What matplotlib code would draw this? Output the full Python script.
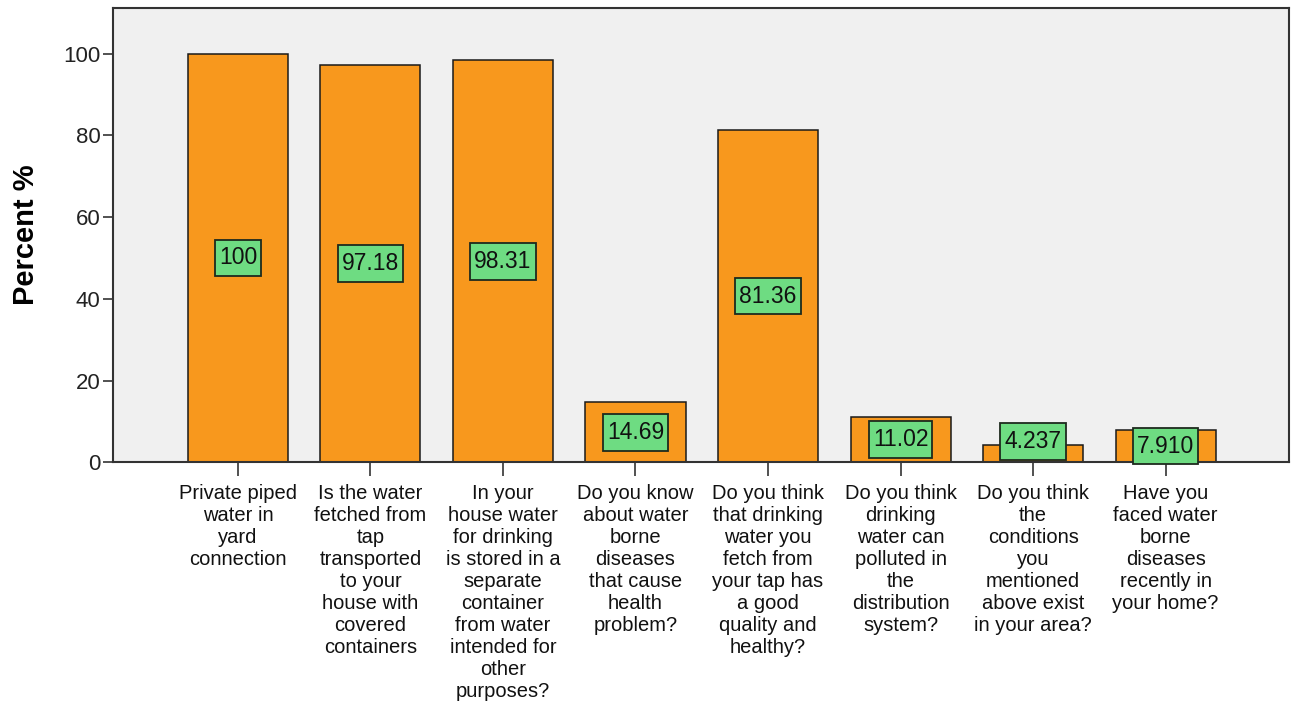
import matplotlib
matplotlib.use("Agg")
import matplotlib.pyplot as plt
from matplotlib.path import Path

plt.rcParams['font.family'] = ['Liberation Sans', 'DejaVu Sans']

categories = [
    "Private piped\nwater in\nyard\nconnection",
    "Is the water\nfetched from\ntap\ntransported\nto your\nhouse with\ncovered\ncontainers",
    "In your\nhouse water\nfor drinking\nis stored in a\nseparate\ncontainer\nfrom water\nintended for\nother\npurposes?",
    "Do you know\nabout water\nborne\ndiseases\nthat cause\nhealth\nproblem?",
    "Do you think\nthat drinking\nwater you\nfetch from\nyour tap has\na good\nquality and\nhealthy?",
    "Do you think\ndrinking\nwater can\npolluted in\nthe\ndistribution\nsystem?",
    "Do you think\nthe\nconditions\nyou\nmentioned\nabove exist\nin your area?",
    "Have you\nfaced water\nborne\ndiseases\nrecently in\nyour home?",
]
values = [100, 97.18, 98.31, 14.69, 81.36, 11.02, 4.237, 7.910]
value_labels = ["100", "97.18", "98.31", "14.69", "81.36", "11.02", "4.237", "7.910"]
yticks = [0, 20, 40, 60, 80, 100]


def label_box(x0, y0, width, height, mutation_size):
    px = 0.18 * mutation_size
    py = 0.30 * mutation_size
    x0, y0 = x0 - px, y0 - py
    x1, y1 = x0 + width + 2 * px, y0 + height + 2 * py
    return Path([(x0, y0), (x1, y0), (x1, y1), (x0, y1), (x0, y0)],
                [Path.MOVETO, Path.LINETO, Path.LINETO, Path.LINETO, Path.CLOSEPOLY])


fig = plt.figure(figsize=(12.97, 7.09), dpi=100)
ax = fig.add_axes([0.0871, 0.348, 0.9066, 0.641])
ax.set_facecolor('#F0F0F0')

x = list(range(len(values)))
ax.bar(x, values, width=0.755, color='#F8981D', edgecolor='#1A1A1A', linewidth=1.1, zorder=2)

for xi, v, lab in zip(x, values, value_labels):
    y = v / 2 if v >= 6 else 5.0
    ax.text(xi, y, lab, ha='center', va='center', fontsize=16.5, color='#111111', zorder=4,
            bbox=dict(boxstyle=label_box, facecolor='#6EDC82', edgecolor='#1E2A1E', linewidth=1.3))

ax.set_xlim(-0.943, 7.93)
ax.set_ylim(0, 111.2)
ax.set_yticks(yticks)
ax.set_yticklabels([str(t) for t in yticks], fontsize=16, color='#222222')
ax.set_xticks(x)
ax.set_xticklabels(categories, fontsize=14.5, color='#111111', linespacing=1.2, va='top')
ax.tick_params(axis='y', length=7, width=1.2, color='#333333', pad=2)
ax.tick_params(axis='x', length=10, width=1.2, color='#333333', pad=6)
for s in ax.spines.values():
    s.set_color('#333333')
    s.set_linewidth(1.5)

ax.set_ylabel('Percent %', fontsize=21, fontweight='bold', labelpad=17)

fig.savefig('out.png', dpi=100)
